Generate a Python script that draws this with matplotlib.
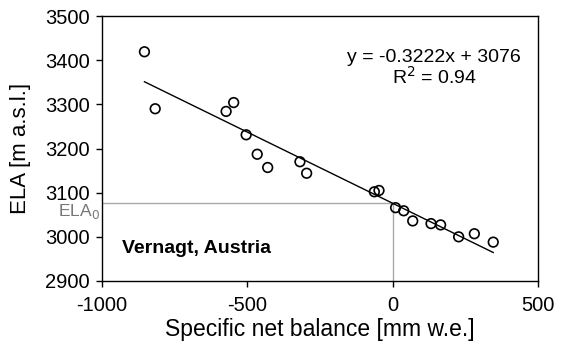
import numpy as np
import matplotlib.pyplot as plt

plt.rcParams['font.family'] = ['Liberation Sans', 'DejaVu Sans']
plt.rcParams['axes.unicode_minus'] = False

# specific net balance (mm w.e.) and ELA (m a.s.l.)
balance = [-854, -817, -573, -547, -504, -466, -430, -319, -296,
           -63, -47, 10, 38, 69, 132, 165, 227, 281, 346]
ela = [3419, 3290, 3284, 3304, 3231, 3187, 3157, 3170, 3144,
       3102, 3105, 3066, 3059, 3036, 3030, 3027, 3000, 3007, 2988]

slope = -0.3222
intercept = 3076
ela0 = 3076

fig = plt.figure(figsize=(5.69, 3.43), dpi=100)
ax = fig.add_axes([102 / 569, 1 - 281 / 343, 436 / 569, 265 / 343])

# ELA0 guide lines
ax.plot([-1000, 0], [ela0, ela0], color='#aaaaaa', lw=1, zorder=1)
ax.plot([0, 0], [2900, ela0], color='#aaaaaa', lw=1, zorder=1)

xl = np.array([min(balance), max(balance)])
ax.plot(xl, slope * xl + intercept, color='black', lw=1, zorder=2)
ax.scatter(balance, ela, s=48, facecolors='none', edgecolors='black',
           linewidths=1.2, zorder=3)

ax.set_xlim(-1000, 500)
ax.set_ylim(2900, 3500)
ax.set_xticks([-1000, -500, 0, 500])
ax.set_yticks(np.arange(2900, 3501, 100))
ax.tick_params(labelsize=14.5, direction='out', length=4, width=1)
ax.tick_params(axis='y', pad=5)
ax.tick_params(axis='x', pad=7)
ax.set_xlabel('Specific net balance [mm w.e.]', fontsize=16.5, labelpad=2)
ax.set_ylabel('ELA [m a.s.l.]', fontsize=16, labelpad=10)
for s in ax.spines.values():
    s.set_linewidth(1)

ax.text(-1006, 3057, 'ELA$_0$', color='#777777', fontsize=12.5,
        ha='right', va='center', clip_on=False)
ax.text(143, 3407, 'y = -0.3222x + 3076', fontsize=14, ha='center', va='center')
ax.text(143, 3362, 'R$^2$ = 0.94', fontsize=14, ha='center', va='center')
ax.text(-930, 2973, 'Vernagt, Austria', fontsize=14, fontweight='bold',
        ha='left', va='center')

fig.savefig('out.png', dpi=100)
